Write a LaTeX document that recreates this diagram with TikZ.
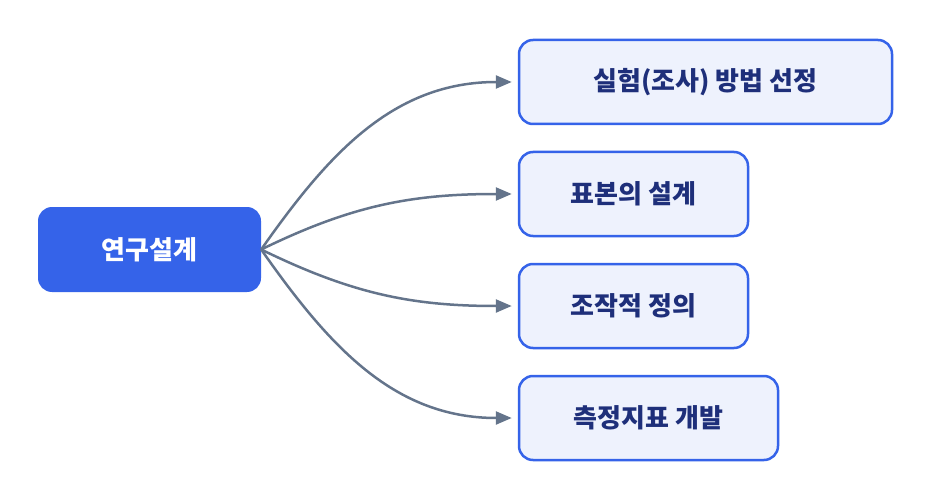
\documentclass[tikz,border=0pt]{standalone}
\usepackage{fontspec}
\setmainfont{Noto Sans CJK KR}
\usetikzlibrary{arrows.meta}
\definecolor{rootfill}{HTML}{3563E9}
\definecolor{leaffill}{HTML}{EEF2FD}
\definecolor{leafline}{HTML}{3563E9}
\definecolor{leaftext}{HTML}{1E2F7A}
\definecolor{edgecol}{HTML}{64748B}
\begin{document}
\begin{tikzpicture}[x=1pt,y=-1pt,
  rootbox/.style={rounded corners=14pt,fill=rootfill,text=white,font=\bfseries\fontsize{26}{30}\selectfont,
    minimum width=223pt,minimum height=85pt,inner sep=0pt},
  leafbox/.style={rounded corners=14pt,draw=leafline,line width=2.5pt,fill=leaffill,text=leaftext,
    font=\bfseries\fontsize{26}{30}\selectfont,minimum height=84pt,inner sep=0pt},
  link/.style={draw=edgecol,line width=2.5pt,-{Triangle[length=16pt,width=13pt]}},
]
\useasboundingbox (0,0) rectangle (932,500);
  % Node: root
  \node [rootbox] (root) at (149.5,249.5) {연구설계};
  % Node: leaves
  \node [leafbox,minimum width=373pt] (method) at (705.5,82) {실험(조사) 방법 선정};
  \node [leafbox,minimum width=229pt] (sample) at (633.5,194) {표본의 설계};
  \node [leafbox,minimum width=229pt] (oper) at (633.5,306) {조작적 정의};
  \node [leafbox,minimum width=259pt] (measure) at (648.5,418) {측정지표 개발};
  % Edges: root -> leaves
  \draw [link] (root.east) to[out=55,in=180] ([xshift=-6pt]method.west);
  \draw [link] (root.east) to[out=26,in=180] ([xshift=-6pt]sample.west);
  \draw [link] (root.east) to[out=-26,in=180] ([xshift=-6pt]oper.west);
  \draw [link] (root.east) to[out=-55,in=180] ([xshift=-6pt]measure.west);
%
\end{tikzpicture}
\end{document}
